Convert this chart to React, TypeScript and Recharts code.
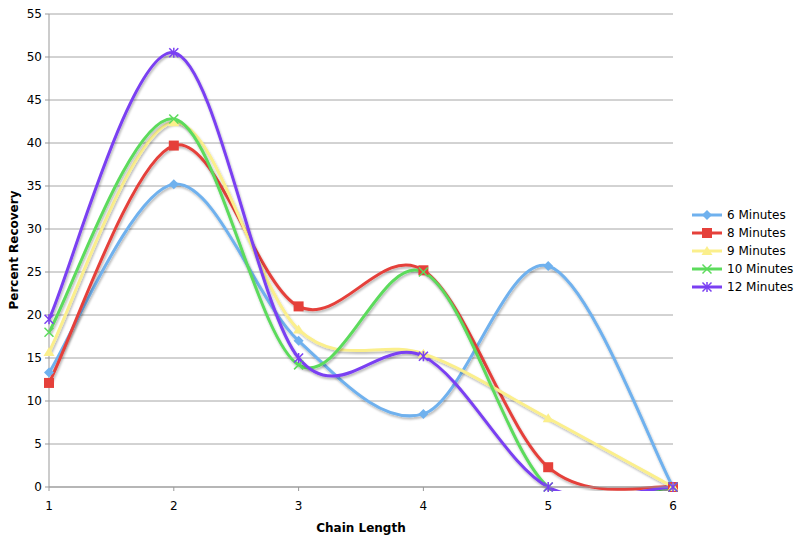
import React from 'react'
import { LineChart, Line, XAxis, YAxis, CartesianGrid } from 'recharts'

const chainLengths = [1, 2, 3, 4, 5, 6]
const sixMinutes = [13.3, 35.2, 17, 8.5, 25.7, 0]
const eightMinutes = [12.1, 39.7, 21, 25.2, 2.3, 0]
const nineMinutes = [15.7, 42.4, 18.3, 15.5, 8, 0]
const tenMinutes = [18, 42.8, 14.2, 25, 0, 0]
const twelveMinutes = [19.5, 50.5, 15, 15.2, 0, 0]
const yTicks = [0, 5, 10, 15, 20, 25, 30, 35, 40, 45, 50, 55]

const FONT = '"DejaVu Sans", Verdana, sans-serif'

type Marker = 'diamond' | 'square' | 'triangle' | 'cross' | 'star'

const series: Array<{ key: string; name: string; color: string; marker: Marker }> = [
  { key: 'm6', name: '6 Minutes', color: '#6fb1ee', marker: 'diamond' },
  { key: 'm8', name: '8 Minutes', color: '#e5403a', marker: 'square' },
  { key: 'm9', name: '9 Minutes', color: '#fbef8c', marker: 'triangle' },
  { key: 'm10', name: '10 Minutes', color: '#5cdb5c', marker: 'cross' },
  { key: 'm12', name: '12 Minutes', color: '#7a3ff2', marker: 'star' },
]

const data = chainLengths.map((c, i) => ({
  chain: c,
  m6: sixMinutes[i],
  m8: eightMinutes[i],
  m9: nineMinutes[i],
  m10: tenMinutes[i],
  m12: twelveMinutes[i],
}))

// excel-like smoothing (catmull-rom style bezier)
function excelSmooth(context: any) {
  let pts: number[][] = []
  return {
    areaStart() {},
    areaEnd() {},
    lineStart() {
      pts = []
    },
    point(x: number, y: number) {
      pts.push([+x, +y])
    },
    lineEnd() {
      const n = pts.length
      if (!n) return
      context.moveTo(pts[0][0], pts[0][1])
      for (let i = 0; i < n - 1; i++) {
        const p0 = pts[Math.max(i - 1, 0)]
        const p1 = pts[i]
        const p2 = pts[i + 1]
        const p3 = pts[Math.min(i + 2, n - 1)]
        context.bezierCurveTo(
          p1[0] + (p2[0] - p0[0]) / 6,
          p1[1] + (p2[1] - p0[1]) / 6,
          p2[0] - (p3[0] - p1[0]) / 6,
          p2[1] - (p3[1] - p1[1]) / 6,
          p2[0],
          p2[1]
        )
      }
    },
  }
}

function MarkerShape({ type, cx, cy, color }: { type: Marker; cx: number; cy: number; color: string }) {
  switch (type) {
    case 'diamond':
      return <polygon points={`${cx},${cy - 5} ${cx + 5},${cy} ${cx},${cy + 5} ${cx - 5},${cy}`} fill={color} />
    case 'square':
      return <rect x={cx - 5} y={cy - 5} width={10} height={10} fill={color} />
    case 'triangle':
      return <polygon points={`${cx},${cy - 5} ${cx + 5.5},${cy + 4} ${cx - 5.5},${cy + 4}`} fill={color} />
    case 'cross':
      return (
        <g stroke={color} strokeWidth={1.5}>
          <line x1={cx - 4.5} y1={cy - 4.5} x2={cx + 4.5} y2={cy + 4.5} />
          <line x1={cx - 4.5} y1={cy + 4.5} x2={cx + 4.5} y2={cy - 4.5} />
        </g>
      )
    default:
      return (
        <g stroke={color} strokeWidth={1.5}>
          <line x1={cx - 4.5} y1={cy - 4.5} x2={cx + 4.5} y2={cy + 4.5} />
          <line x1={cx - 4.5} y1={cy + 4.5} x2={cx + 4.5} y2={cy - 4.5} />
          <line x1={cx} y1={cy - 5} x2={cx} y2={cy + 5} />
        </g>
      )
  }
}

function LegendBox() {
  return (
    <div
      style={{
        position: 'absolute',
        left: 691,
        top: 206,
        fontFamily: FONT,
        fontSize: 12,
        color: '#000',
      }}
    >
      {series.map((s) => (
        <div key={s.key} style={{ display: 'flex', alignItems: 'center', height: 18 }}>
          <svg width={32} height={14}>
            <line x1={1} y1={7} x2={31} y2={7} stroke={s.color} strokeWidth={3} />
            <MarkerShape type={s.marker} cx={16} cy={7} color={s.color} />
          </svg>
          <span style={{ marginLeft: 4 }}>{s.name}</span>
        </div>
      ))}
    </div>
  )
}

export default function App() {
  const tick = { fontSize: 12, fill: '#000', fontFamily: FONT }
  return (
    <div style={{ position: 'absolute', left: 0, top: 0, width: 800, height: 537, background: '#fff' }}>
      <svg width={0} height={0} style={{ position: 'absolute' }}>
        <defs>
          <filter id="lineShadow" x="-5%" y="-5%" width="110%" height="120%">
            <feDropShadow dx="1" dy="2" stdDeviation="0.8" floodColor="#000" floodOpacity="0.28" />
          </filter>
          <clipPath id="plotClip" clipPathUnits="userSpaceOnUse">
            <rect x={0} y={0} width={800} height={491} />
          </clipPath>
        </defs>
      </svg>
      <style>{`.recharts-line-curve { filter: url(#lineShadow); clip-path: url(#plotClip); }`}</style>
      <LineChart width={800} height={537} data={data} margin={{ top: 14, right: 127, left: 0, bottom: 0 }}>
        <CartesianGrid horizontal vertical={false} stroke="#a6a6a6" strokeWidth={1} />
        <XAxis
          dataKey="chain"
          type="number"
          domain={[1, 6]}
          ticks={chainLengths}
          height={50}
          tick={tick}
          tickSize={4}
          tickMargin={10}
          stroke="#999"
          label={{
            value: 'Chain Length',
            position: 'insideBottom',
            offset: 5,
            style: { fontSize: 12, fontWeight: 'bold', fill: '#000', fontFamily: FONT },
          }}
        />
        <YAxis
          type="number"
          domain={[0, 55]}
          ticks={yTicks}
          width={49}
          tick={tick}
          tickSize={4}
          tickMargin={3}
          stroke="#999"
          label={() => (
            <text
              x={14}
              y={250}
              transform="rotate(-90 14 250)"
              textAnchor="middle"
              dominantBaseline="central"
              style={{ fontSize: 12, fontWeight: 'bold', fill: '#000', fontFamily: FONT }}
            >
              Percent Recovery
            </text>
          )}
        />
        {series.map((s) => (
          <Line
            key={s.key}
            dataKey={s.key}
            name={s.name}
            type={excelSmooth as any}
            stroke={s.color}
            strokeWidth={3}
            isAnimationActive={false}
            dot={(p: any) => (
              <MarkerShape key={`${s.key}-${p.index}`} type={s.marker} cx={p.cx} cy={p.cy} color={s.color} />
            )}
            activeDot={false}
          />
        ))}
      </LineChart>
      <LegendBox />
    </div>
  )
}
